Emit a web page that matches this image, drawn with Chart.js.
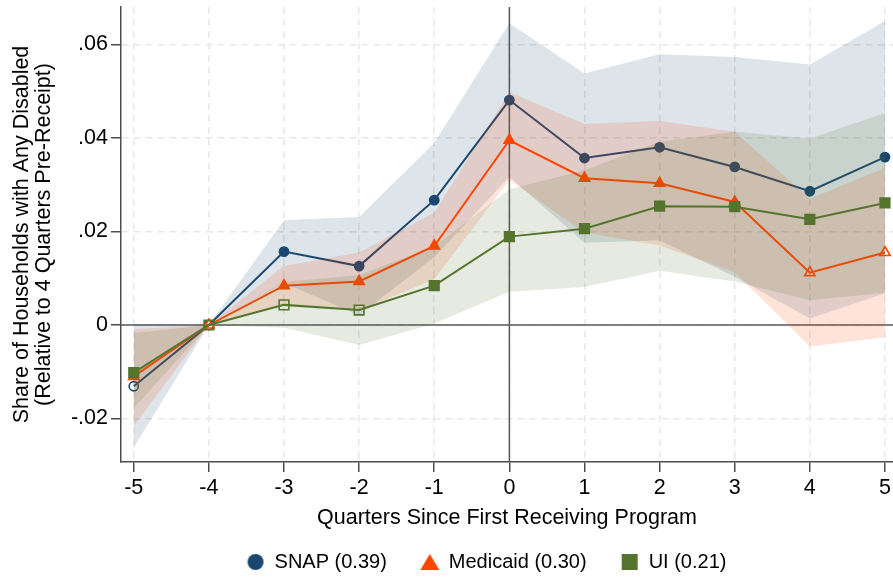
<!DOCTYPE html>
<html>
<head>
<meta charset="utf-8">
<title>Share of Households with Any Disabled</title>
<script src="https://cdn.jsdelivr.net/npm/chart.js@4.4.1/dist/chart.umd.min.js"></script>
<style>
  html, body { margin: 0; padding: 0; background: #fff; }
  #wrap { width: 893px; height: 578px; }
</style>
</head>
<body>
<div id="wrap"><canvas id="eventChart" width="893" height="578"></canvas></div>
<script>
// quarters relative to first receipt
const quarters = [-5, -4, -3, -2, -1, 0, 1, 2, 3, 4, 5];
const xTicks = [-5, -4, -3, -2, -1, 0, 1, 2, 3, 4, 5];
const yTicks = [-0.02, 0, 0.02, 0.04, 0.06];

// point estimates and 95% bands
const snapEst = [-0.0131, 0, 0.0157, 0.0126, 0.0267, 0.0481, 0.0357, 0.0380, 0.0338, 0.0286, 0.0359];
const snapHi  = [0.0002, 0, 0.0224, 0.0231, 0.0389, 0.0645, 0.0538, 0.0579, 0.0573, 0.0557, 0.0650];
const snapLo  = [-0.0262, 0, 0.0090, 0.0021, 0.0145, 0.0317, 0.0176, 0.0181, 0.0103, 0.0014, 0.0068];

const medEst = [-0.0110, 0, 0.0084, 0.0093, 0.0169, 0.0395, 0.0314, 0.0303, 0.0263, 0.0112, 0.0155];
const medHi  = [-0.0009, 0, 0.0126, 0.0155, 0.0240, 0.0498, 0.0430, 0.0436, 0.0413, 0.0270, 0.0336];
const medLo  = [-0.0216, 0, 0.0042, 0.0031, 0.0098, 0.0310, 0.0198, 0.0170, 0.0113, -0.0046, -0.0026];

const uiEst = [-0.0102, 0, 0.0043, 0.0032, 0.0084, 0.0189, 0.0206, 0.0254, 0.0253, 0.0226, 0.0261];
const uiHi  = [-0.0017, 0, 0.0092, 0.0107, 0.0168, 0.0290, 0.0331, 0.0392, 0.0413, 0.0399, 0.0453];
const uiLo  = [-0.0178, 0, -0.0006, -0.0043, 0.0003, 0.0071, 0.0081, 0.0116, 0.0093, 0.0053, 0.0069];

const seriesLabels = ['SNAP (0.39)', 'Medicaid (0.30)', 'UI (0.21)'];

const NAVY = '#1a476f';
const ORANGE = '#ff4500';
const GREEN = '#55752f';
const FONT = "'Liberation Sans', Arial, Helvetica, sans-serif";

function pts(vals) {
    return quarters.map((q, i) => ({ x: q, y: vals[i] }));
}

// hollow marker where the band covers zero
function fills(lo, hi, color) {
    return lo.map((l, i) => (l <= 0 && hi[i] >= 0) ? 'rgba(0,0,0,0)' : color);
}

function fmtTick(v) {
    if (Math.abs(v) < 1e-9) return '0';
    return (v < 0 ? '-' : '') + Math.abs(v).toFixed(2).replace(/^0/, '');
}

// legend marker images
function legendIcon(shape, color) {
    const c = document.createElement('canvas');
    c.width = 20; c.height = 18;
    const g = c.getContext('2d');
    g.fillStyle = color;
    g.beginPath();
    if (shape === 'circle') {
        g.arc(10, 9, 8, 0, Math.PI * 2);
    } else if (shape === 'triangle') {
        g.moveTo(10, 1); g.lineTo(19.5, 17); g.lineTo(0.5, 17); g.closePath();
    } else {
        g.rect(2, 1, 16, 16);
    }
    g.fill();
    return c;
}

function lineSet(label, vals, lo, hi, color, style, radius, order) {
    return {
        label: label,
        data: pts(vals),
        borderColor: color,
        borderWidth: 2,
        pointStyle: style,
        pointRadius: radius,
        pointBorderWidth: 1.6,
        pointBorderColor: color,
        pointBackgroundColor: fills(lo, hi, color),
        fill: false,
        tension: 0,
        clip: false,
        order: order
    };
}

function bandSet(vals, color, fill, order) {
    return {
        label: 'band',
        data: pts(vals),
        borderWidth: 0,
        borderColor: 'rgba(0,0,0,0)',
        backgroundColor: color,
        pointRadius: 0,
        fill: fill,
        tension: 0,
        order: order
    };
}

const datasets = [
    lineSet(seriesLabels[0], snapEst, snapLo, snapHi, NAVY, 'circle', 4.6, 5),
    bandSet(snapHi, 'rgba(26,71,111,0.15)', false, 6),
    bandSet(snapLo, 'rgba(26,71,111,0.15)', '-1', 6),
    lineSet(seriesLabels[1], medEst, medLo, medHi, ORANGE, 'triangle', 6, 3),
    bandSet(medHi, 'rgba(255,69,0,0.15)', false, 4),
    bandSet(medLo, 'rgba(255,69,0,0.15)', '-1', 4),
    lineSet(seriesLabels[2], uiEst, uiLo, uiHi, GREEN, 'rect', 6.8, 1),
    bandSet(uiHi, 'rgba(85,117,47,0.15)', false, 2),
    bandSet(uiLo, 'rgba(85,117,47,0.15)', '-1', 2)
];

const legendIcons = [legendIcon('circle', NAVY), legendIcon('triangle', ORANGE), legendIcon('square', GREEN)];

// solid reference lines at x = 0 and y = 0
const zeroLines = {
    id: 'zeroLines',
    beforeDatasetsDraw(chart) {
        const { ctx, chartArea: a, scales: { x, y } } = chart;
        const px = x.getPixelForValue(0);
        const py = y.getPixelForValue(0);
        ctx.save();
        ctx.strokeStyle = '#5a5a5a';
        ctx.lineWidth = 1.5;
        ctx.beginPath();
        ctx.moveTo(px, a.top); ctx.lineTo(px, a.bottom);
        ctx.moveTo(a.left, py); ctx.lineTo(a.right, py);
        ctx.stroke();
        ctx.restore();
    }
};

// nudge the legend to sit where the original puts it
const legendPlace = {
    id: 'legendPlace',
    afterLayout(chart) {
        const l = chart.legend;
        l.left += 40; l.right += 40;
        const h = l.height;
        l.top = 518; l.bottom = 518 + h;
    }
};

const ctx = document.getElementById('eventChart');
new Chart(ctx, {
    type: 'line',
    data: { datasets: datasets },
    plugins: [zeroLines, legendPlace],
    options: {
        responsive: false,
        animation: false,
        layout: { autoPadding: false, padding: { top: 7, right: 0, left: 0, bottom: 0 } },
        scales: {
            x: {
                type: 'linear',
                min: -5.17,
                max: 5.107,
                afterBuildTicks: s => { s.ticks = xTicks.map(v => ({ value: v })); },
                afterFit: s => { s.height = 52; s.paddingLeft = 0; s.paddingRight = 0; },
                ticks: { color: '#000', padding: 3, font: { family: FONT, size: 21.5 }, callback: v => String(v) },
                grid: { color: '#e8e8e8', lineWidth: 1.5, tickLength: 10, tickColor: '#4d4d4d', tickWidth: 1.5 },
                border: { color: '#4d4d4d', width: 1.5, dash: [7, 5] },
                title: {
                    display: true,
                    text: 'Quarters Since First Receiving Program',
                    color: '#000',
                    font: { family: FONT, size: 21.5 },
                    padding: { top: 0, bottom: -16.5 }
                }
            },
            y: {
                min: -0.0293,
                max: 0.068,
                afterBuildTicks: s => { s.ticks = yTicks.map(v => ({ value: v })); },
                afterFit: s => { s.width = 121; s.paddingTop = 0; s.paddingBottom = 0; },
                ticks: { color: '#000', padding: 3, font: { family: FONT, size: 21.5 }, callback: v => fmtTick(v) },
                grid: { color: '#e8e8e8', lineWidth: 1.5, tickLength: 10, tickColor: '#4d4d4d', tickWidth: 1.5 },
                border: { color: '#4d4d4d', width: 1.5, dash: [7, 5] },
                title: {
                    display: true,
                    text: ['Share of Households with Any Disabled', '(Relative to 4 Quarters Pre-Receipt)'],
                    color: '#000',
                    font: { family: FONT, size: 21.5, lineHeight: 1.03 },
                    padding: { top: 11, bottom: 0 }
                }
            }
        },
        plugins: {
            tooltip: { enabled: false },
            legend: {
                position: 'bottom',
                onClick: null,
                labels: {
                    usePointStyle: true,
                    boxWidth: 18,
                    boxHeight: 18,
                    padding: 34,
                    color: '#000',
                    font: { family: FONT, size: 20 },
                    generateLabels: () => seriesLabels.map((t, i) => ({
                        text: t,
                        pointStyle: legendIcons[i],
                        fillStyle: 'rgba(0,0,0,0)',
                        strokeStyle: 'rgba(0,0,0,0)',
                        lineWidth: 0,
                        hidden: false,
                        datasetIndex: i * 3
                    }))
                }
            }
        }
    }
});
</script>
</body>
</html>
